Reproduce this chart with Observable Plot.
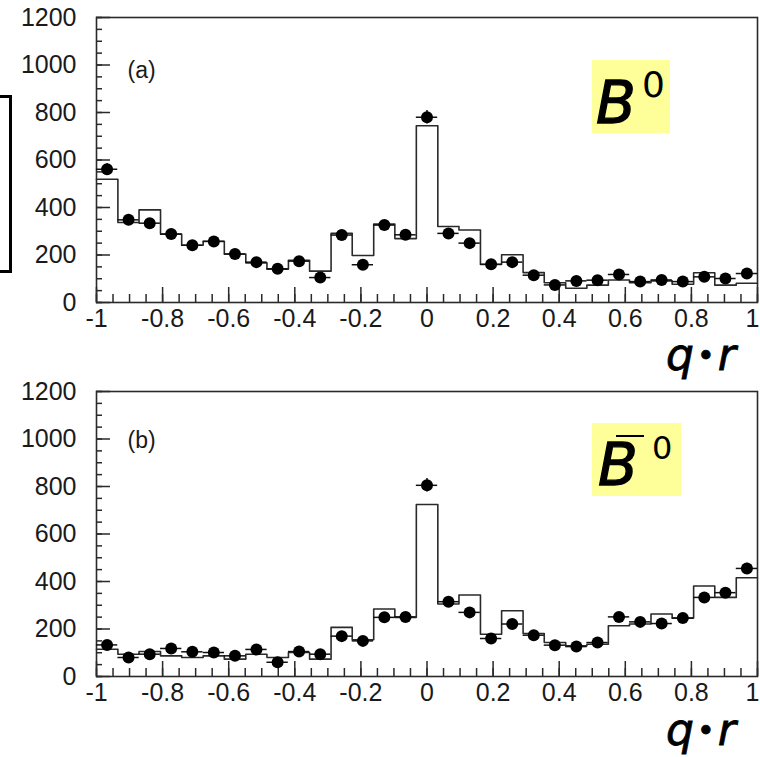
<!DOCTYPE html>
<html><head><meta charset="utf-8">
<script src="https://cdn.jsdelivr.net/npm/d3@7"></script>
<script src="https://cdn.jsdelivr.net/npm/@observablehq/plot@0.6"></script>
<style>
body{margin:0;background:#fff;}
#wrap{position:relative;width:760px;height:757px;overflow:hidden;font-family:"Liberation Sans",sans-serif;background:#fff;}
.panel{position:absolute;left:0;}
.qr{position:absolute;font-family:"DejaVu Sans",sans-serif;font-style:italic;font-size:44px;line-height:1;letter-spacing:3px;color:#000;-webkit-text-stroke:0.8px #000;}
.qr .dot{font-size:30px;vertical-align:4px;}
.bbox{position:absolute;background:#ffff99;}
.bb{position:absolute;font-family:"DejaVu Sans",sans-serif;font-style:italic;font-size:58px;line-height:1;color:#000;-webkit-text-stroke:1.3px #000;}
.sup{position:absolute;font-family:"DejaVu Sans",sans-serif;line-height:1;color:#000;}
.ov{position:absolute;height:2px;background:#000;}
.side{position:absolute;left:-20px;top:95px;width:26px;height:172px;border:3px solid #000;}
</style></head><body>
<div id="wrap">
  <div class="side"></div>
  <div class="panel" id="pa" style="top:0px"></div>
  <div class="panel" id="pb" style="top:374px"></div>
  <div class="qr" style="left:666px;top:333px">q<span class="dot">•</span>r</div>
  <div class="qr" style="left:666px;top:708px">q<span class="dot">•</span>r</div>
  <div class="bbox" style="left:592px;top:60px;width:78px;height:73px">
    <span class="bb" style="left:4px;top:14px">B</span>
    <span class="sup" style="left:50px;top:7px;font-size:36px">0</span>
  </div>
  <div class="bbox" style="left:592px;top:423px;width:89px;height:73px">
    <div class="ov" style="left:24px;top:12px;width:28px"></div>
    <span class="bb" style="left:6px;top:13px">B</span>
    <span class="sup" style="left:60px;top:9px;font-size:32px">0</span>
  </div>
</div>
<script>
// bin centres of the 31 q·r bins
const binCenters = [-0.968, -0.903, -0.839, -0.774, -0.710, -0.645, -0.581, -0.516, -0.452, -0.387,
  -0.323, -0.258, -0.194, -0.129, -0.065, 0, 0.065, 0.129, 0.194, 0.258, 0.323, 0.387, 0.452,
  0.516, 0.581, 0.645, 0.710, 0.774, 0.839, 0.903, 0.968];
// panel (a) B0: MC histogram and data points
const mcA = [519, 337, 390, 288, 241, 258, 204, 167, 140, 178, 132, 291, 198, 330, 269, 744,
  320, 305, 160, 201, 126, 83, 60, 73, 95, 83, 91, 77, 125, 73, 81];
const dataA = [561, 348, 334, 288, 241, 257, 204, 170, 142, 174, 105, 284, 159, 326, 285, 780,
  291, 250, 161, 170, 115, 74, 91, 94, 118, 88, 95, 88, 108, 101, 122];
// panel (b) B0bar
const mcB = [115, 94, 105, 87, 80, 87, 73, 94, 80, 101, 73, 207, 155, 284, 249, 724,
  305, 343, 178, 277, 181, 143, 129, 136, 214, 221, 263, 246, 381, 333, 416];
const dataB = [133, 80, 94, 118, 104, 101, 87, 114, 60, 105, 94, 170, 150, 249, 251, 805,
  315, 270, 160, 221, 174, 132, 126, 143, 251, 230, 223, 246, 333, 353, 455];
const yTicks = [0, 200, 400, 600, 800, 1000, 1200];
const xTicks = [-1, -0.8, -0.6, -0.4, -0.2, 0, 0.2, 0.4, 0.6, 0.8, 1];
const panelLabels = ["(a)", "(b)"];

const yMinor = d3.range(0, 1201, 50);
const xMinor = d3.range(0, 41).map(i => -1 + i * 0.05);
const binW = 2 / binCenters.length;
const fmtX = d => String(Math.round(d * 10) / 10);

function makePanel(mc, data, label, labelDy) {
  const steps = binCenters.map((c, i) => ({x: c - binW / 2, y: mc[i]}));
  steps.push({x: 1, y: mc[mc.length - 1]});
  const pts = binCenters.map((c, i) => ({x: c, y: data[i], lo: c - binW / 2, hi: c + binW / 2, e: Math.sqrt(data[i])}));
  const ink = "#2a2a2a";
  const inner = xTicks.slice(0, -1);
  const last = xTicks.slice(-1);
  return Plot.plot({
    width: 760, height: 340,
    marginLeft: 96, marginRight: 3, marginTop: 17, marginBottom: 38,
    x: {domain: [-1, 1]},
    y: {domain: [0, 1200]},
    style: {fontFamily: "Liberation Sans, sans-serif", color: "#1a1a1a", background: "transparent", overflow: "visible"},
    marks: [
      Plot.axisY(yMinor, {tickSize: -6, fill: "none", stroke: ink, strokeWidth: 1.5, label: null}),
      Plot.axisY(yTicks, {tickSize: -14, fill: "none", stroke: ink, strokeWidth: 1.5, label: null}),
      Plot.axisY(yTicks, {tickSize: 0, tickPadding: 20, label: null, fontSize: 25, tickFormat: d => String(d)}),
      Plot.axisX(xMinor, {tickSize: -8, fill: "none", stroke: ink, strokeWidth: 1.5, label: null}),
      Plot.axisX(xTicks, {tickSize: -15, fill: "none", stroke: ink, strokeWidth: 1.5, label: null}),
      Plot.axisX(inner, {tickSize: 0, tickPadding: 7, label: null, fontSize: 25, tickFormat: fmtX}),
      Plot.text(last, {x: d => d, frameAnchor: "bottom", dy: 7, dx: 2, lineAnchor: "top", textAnchor: "end", fontSize: 25, text: fmtX, fill: "#1a1a1a"}),
      Plot.frame({stroke: ink, strokeWidth: 1.6}),
      Plot.line(steps, {x: "x", y: "y", curve: "step-after", stroke: ink, strokeWidth: 1.6}),
      Plot.ruleY(pts, {x1: "lo", x2: "hi", y: "y", stroke: "#111", strokeWidth: 1.5}),
      Plot.ruleX(pts, {x: "x", y1: d => d.y - d.e, y2: d => d.y + d.e, stroke: "#111", strokeWidth: 1.5}),
      Plot.dot(pts, {x: "x", y: "y", r: 6, fill: "#000"}),
      Plot.text([label], {frameAnchor: "top-left", text: d => d, dx: 31, dy: labelDy, lineAnchor: "middle", fontSize: 23, fill: "#1a1a1a"})
    ]
  });
}
document.getElementById("pa").appendChild(makePanel(mcA, dataA, panelLabels[0], 53));
document.getElementById("pb").appendChild(makePanel(mcB, dataB, panelLabels[1], 49));
</script>
</body></html>
